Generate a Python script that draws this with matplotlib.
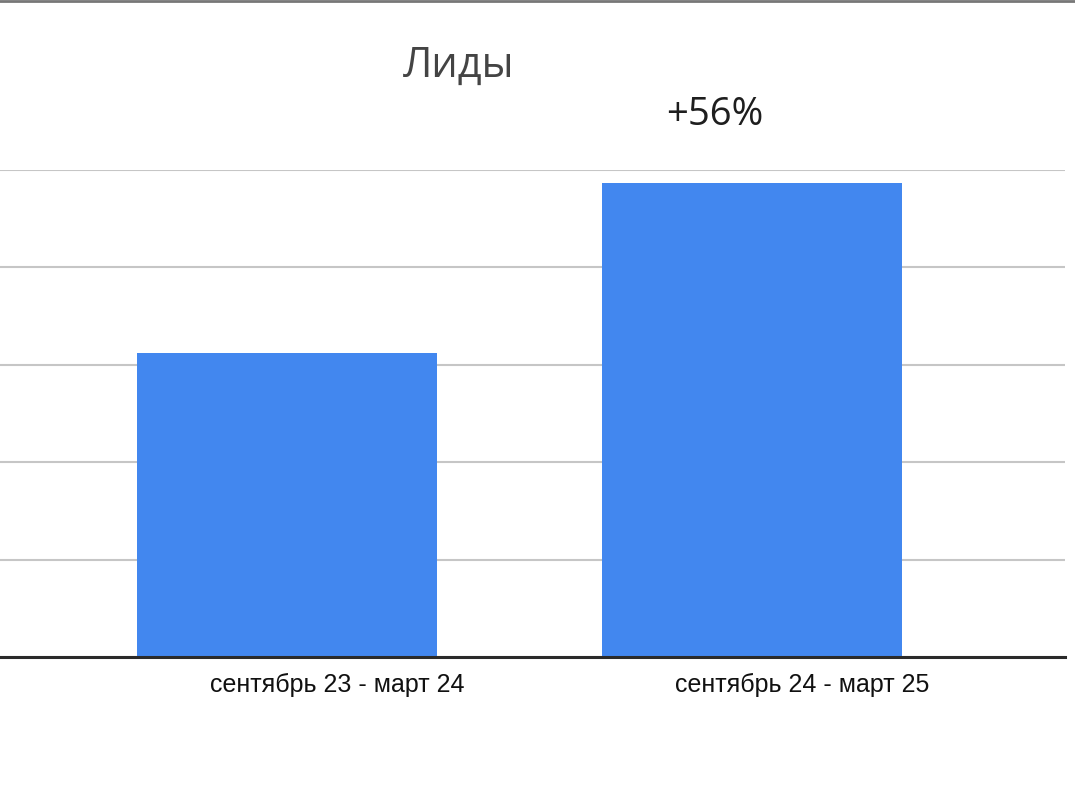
import matplotlib.pyplot as plt
import matplotlib.transforms as mtransforms
import numpy as np

# data
periods = ["сентябрь 23 - март 24", "сентябрь 24 - март 25"]
leads = [3.12, 4.87]  # relative heights, y axis has no labels
growth_label = "+56%"
title = "Лиды"
grid_ticks = [0, 1, 2, 3, 4, 5]

BLUE = "#4287ef"

fig = plt.figure(figsize=(10.75, 8), dpi=100)
# axes spans baseline (y=657px) to top gridline (y=170px)
ax = fig.add_axes([0.0, 1 - 657 / 800, 1065 / 1075, (657 - 170) / 800])

x = np.arange(len(periods))
ax.bar(x, leads, width=0.645, color=BLUE, zorder=2)

ax.set_xlim(-0.617, 1.673)
ax.set_ylim(0, 5)
ax.set_yticks(grid_ticks)
ax.set_yticklabels([])
ax.tick_params(axis="y", length=0)
ax.grid(axis="y", color="#c6c6c6", linewidth=1.5, zorder=0)
ax.set_axisbelow(True)

for side in ["top", "right", "left"]:
    ax.spines[side].set_visible(False)
ax.spines["bottom"].set_color("#2a2a2a")
ax.spines["bottom"].set_linewidth(2.2)
ax.spines["bottom"].set_zorder(3)

ax.set_xticks(x)
ax.set_xticklabels(periods, fontsize=18, family="Liberation Sans", color="#111111")
ax.tick_params(axis="x", length=0, pad=11.5)
# labels sit a bit right of the bar centres in the original
shift = mtransforms.ScaledTranslation(50 / 100, 0, fig.dpi_scale_trans)
for lbl in ax.get_xticklabels():
    lbl.set_transform(lbl.get_transform() + shift)

ax.annotate(growth_label, xy=(1, leads[1]), xytext=(-27, 49), textcoords="offset points",
            ha="center", va="center", fontsize=27.5, family="Open Sans", color="#1e1e1e")

fig.text(459 / 1075, 1 - 66 / 800, title, ha="center", va="center",
         fontsize=30, family="Open Sans", color="#444444")

# thin frame line at the very top of the screenshot
fig.add_artist(plt.Line2D([0, 1], [0.999, 0.999], color="#777777", linewidth=2))

fig.savefig("out.png", dpi=100, facecolor="white")
